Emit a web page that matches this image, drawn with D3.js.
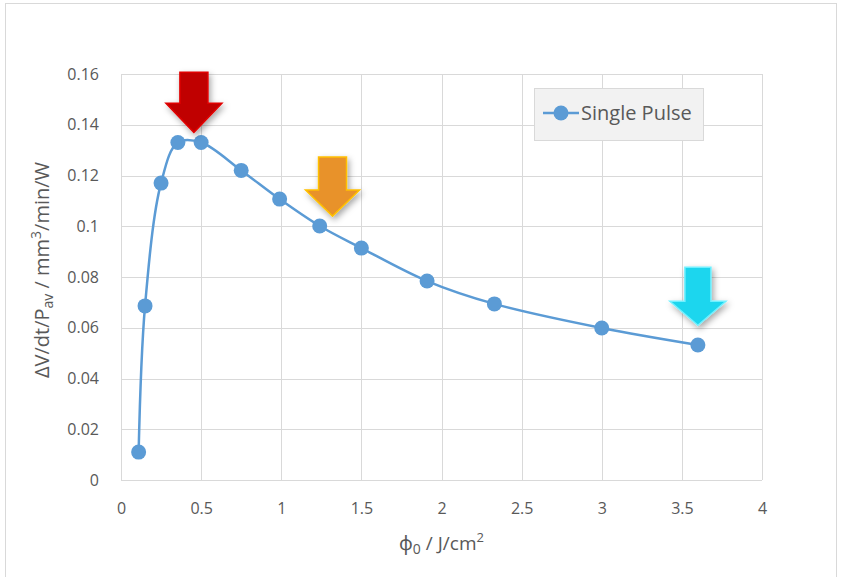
<!DOCTYPE html>
<html>
<head>
<meta charset="utf-8">
<script src="https://cdn.jsdelivr.net/npm/d3@7"></script>
<style>
  body { margin: 0; background: #fff; }
  text { font-family: "Open Sans", "Noto Sans", sans-serif; fill: #595959; }
</style>
</head>
<body>
<div id="chart"></div>
<script>
// data
var fluence = [0.11, 0.15, 0.25, 0.355, 0.5, 0.75, 0.99, 1.24, 1.5, 1.91, 2.33, 3.0, 3.6];
var rate = [0.011, 0.0686, 0.117, 0.133, 0.133, 0.122, 0.1107, 0.1001, 0.0914, 0.0784, 0.0694, 0.0599, 0.0532];
var xTicks = [0, 0.5, 1, 1.5, 2, 2.5, 3, 3.5, 4];
var yTicks = [0, 0.02, 0.04, 0.06, 0.08, 0.1, 0.12, 0.14, 0.16];
var seriesName = "Single Pulse";

// arrows: tip position in data units
var arrowX = [0.455, 1.32, 3.6];
var arrowY = [0.137, 0.104, 0.061];
var arrowFill = ["#c00000", "#e8922a", "#1ed6ee"];
var arrowEdge = ["#e00000", "#ffc000", "#6ff0ff"];

var W = 841, H = 577;
var margin = {top: 74, right: 79, bottom: 97, left: 121};
var width = W - margin.left - margin.right,
    height = H - margin.top - margin.bottom;

var svg = d3.select("#chart").append("svg")
    .attr("width", W)
    .attr("height", H);

// chart area border
svg.append("rect")
    .attr("x", 5.5).attr("y", 3.5)
    .attr("width", 831).attr("height", 600)
    .attr("fill", "#fff")
    .attr("stroke", "#d9d9d9");

var defs = svg.append("defs");
var shadow = defs.append("filter").attr("id", "shadow")
    .attr("x", "-50%").attr("y", "-50%").attr("width", "200%").attr("height", "200%");
shadow.append("feDropShadow")
    .attr("dx", 2).attr("dy", 3).attr("stdDeviation", 3)
    .attr("flood-color", "#000").attr("flood-opacity", 0.35);

var g = svg.append("g")
    .attr("transform", "translate(" + margin.left + "," + margin.top + ")");

var x = d3.scaleLinear().domain([0, 4]).range([0, width]);
var y = d3.scaleLinear().domain([0, 0.16]).range([height, 0]);

// gridlines
g.append("g").selectAll("line.h")
    .data(yTicks).enter().append("line")
    .attr("x1", 0).attr("x2", width)
    .attr("y1", function (d) { return Math.round(y(d)) + 0.5; })
    .attr("y2", function (d) { return Math.round(y(d)) + 0.5; })
    .attr("stroke", "#d9d9d9");
g.append("g").selectAll("line.v")
    .data(xTicks).enter().append("line")
    .attr("y1", 0).attr("y2", height)
    .attr("x1", function (d) { return Math.round(x(d)) + 0.5; })
    .attr("x2", function (d) { return Math.round(x(d)) + 0.5; })
    .attr("stroke", "#d9d9d9");

// axes (labels only)
var xAxis = g.append("g")
    .attr("transform", "translate(0," + height + ")")
    .call(d3.axisBottom(x).tickValues(xTicks).tickSize(0).tickPadding(23).tickFormat(d3.format("")));
var yAxis = g.append("g")
    .call(d3.axisLeft(y).tickValues(yTicks).tickSize(0).tickPadding(22).tickFormat(function (d) { return d3.format("")(+d.toFixed(2)); }));
[xAxis, yAxis].forEach(function (a) {
    a.select(".domain").remove();
    a.selectAll("text").attr("font-size", "16px").attr("fill", "#595959")
        .style("font-family", "'Open Sans', sans-serif");
});

// series line
var pts = fluence.map(function (f, i) { return [f, rate[i]]; });
var line = d3.line()
    .x(function (d) { return x(d[0]); })
    .y(function (d) { return y(d[1]); })
    .curve(d3.curveCatmullRom.alpha(0.5));
g.append("path")
    .datum(pts)
    .attr("d", line)
    .attr("fill", "none")
    .attr("stroke", "#5b9bd5")
    .attr("stroke-width", 2.5);

g.selectAll("circle.pt")
    .data(pts).enter().append("circle")
    .attr("cx", function (d) { return x(d[0]); })
    .attr("cy", function (d) { return y(d[1]); })
    .attr("r", 7.5)
    .attr("fill", "#5b9bd5");

// arrows
function arrowPath(sw, hw, shaftLen, headLen) {
    // tip at (0,0), pointing down
    return "M0,0 L" + (-hw) + "," + (-headLen) + " L" + (-sw) + "," + (-headLen) +
        " L" + (-sw) + "," + (-headLen - shaftLen) + " L" + sw + "," + (-headLen - shaftLen) +
        " L" + sw + "," + (-headLen) + " L" + hw + "," + (-headLen) + " Z";
}
var arrowSize = [[14, 28, 31, 29], [14, 27, 33, 26], [13, 28, 34, 24]];
g.selectAll("path.arrow")
    .data(arrowX).enter().append("path")
    .attr("class", "arrow")
    .attr("transform", function (d, i) { return "translate(" + x(d) + "," + y(arrowY[i]) + ")"; })
    .attr("d", function (d, i) { return arrowPath.apply(null, arrowSize[i]); })
    .attr("fill", function (d, i) { return arrowFill[i]; })
    .attr("stroke", function (d, i) { return arrowEdge[i]; })
    .attr("stroke-width", 1.5)
    .attr("filter", "url(#shadow)");

// legend
var leg = svg.append("g").attr("transform", "translate(534,88)");
leg.append("rect")
    .attr("x", 0.5).attr("y", 0.5).attr("width", 169).attr("height", 52)
    .attr("fill", "#f2f2f2").attr("stroke", "#d9d9d9");
leg.append("line")
    .attr("x1", 9).attr("x2", 45).attr("y1", 25).attr("y2", 25)
    .attr("stroke", "#5b9bd5").attr("stroke-width", 2.5);
leg.append("circle").attr("cx", 27).attr("cy", 25).attr("r", 7.5).attr("fill", "#5b9bd5");
leg.append("text")
    .attr("x", 47).attr("y", 32)
    .attr("font-size", "20px")
    .text(seriesName);

// x axis title
var xt = svg.append("text")
    .attr("x", margin.left + width / 2).attr("y", 550)
    .attr("text-anchor", "middle")
    .attr("font-size", "19px");
xt.append("tspan").text("\u03d5");
xt.append("tspan").attr("font-size", "14px").attr("dy", 4).text("0");
xt.append("tspan").attr("dy", -4).text(" / J/cm");
xt.append("tspan").attr("font-size", "13px").attr("dy", -8).text("2");

// y axis title
var yt = svg.append("text")
    .attr("transform", "translate(49,270) rotate(-90)")
    .attr("text-anchor", "middle")
    .attr("font-size", "20px");
yt.append("tspan").text("\u0394V/dt/P");
yt.append("tspan").attr("font-size", "14px").attr("dy", 4).text("av");
yt.append("tspan").attr("dy", -4).text(" / mm");
yt.append("tspan").attr("font-size", "14px").attr("dy", -8).text("3");
yt.append("tspan").attr("dy", 8).text("/min/W");
</script>
</body>
</html>
